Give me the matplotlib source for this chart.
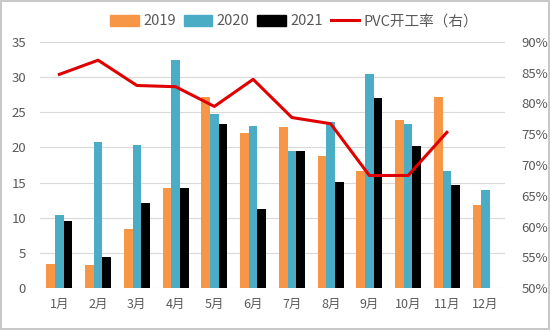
import matplotlib
matplotlib.use("Agg")
import matplotlib.pyplot as plt
import numpy as np
from matplotlib.patches import Patch
from matplotlib.lines import Line2D
from matplotlib.ticker import FuncFormatter

plt.rcParams['font.family'] = ['Noto Sans CJK SC', 'DejaVu Sans']

months = ["1月", "2月", "3月", "4月", "5月", "6月", "7月", "8月", "9月", "10月", "11月", "12月"]
v2019 = [3.5, 3.3, 8.4, 14.2, 27.2, 22.0, 22.9, 18.8, 16.7, 23.9, 27.2, 11.8]
v2020 = [10.4, 20.8, 20.3, 32.4, 24.7, 23.1, 19.5, 23.6, 30.4, 23.3, 16.7, 13.9]
v2021 = [9.6, 4.4, 12.1, 14.3, 23.3, 11.2, 19.5, 15.1, 27.0, 20.2, 14.6, np.nan]
pvc_rate = [84.7, 87.0, 82.9, 82.7, 79.5, 83.9, 77.7, 76.7, 68.3, 68.3, 75.3, np.nan]

c2019 = "#F79646"
c2020 = "#4BACC6"
c2021 = "#000000"
cline = "#E00000"
txt = "#595959"
grid = "#D9D9D9"

fig = plt.figure(figsize=(5.5, 3.3), dpi=100)
fig.patch.set_facecolor("white")
fig.patch.set_edgecolor("#C8C8C8")
fig.patch.set_linewidth(1.5)

ax = fig.add_axes([0.0727, 0.1264, 0.8455, 0.7472])
x = np.arange(len(months))
w = 0.225
ax.bar(x - w, v2019, w, color=c2019, zorder=2)
ax.bar(x, v2020, w, color=c2020, zorder=2)
ax.bar(x + w, v2021, w, color=c2021, zorder=2)

ax.set_xlim(-0.5, len(months) - 0.5)
ax.set_ylim(0, 35)
ax.set_yticks(np.arange(0, 36, 5))
ax.yaxis.grid(True, color=grid, linewidth=0.8, zorder=0)
ax.set_axisbelow(True)
for s in ax.spines.values():
    s.set_visible(False)
ax.tick_params(axis="both", length=0, colors=txt, labelsize=9.5)
ax.tick_params(axis="y", pad=10)
ax.tick_params(axis="x", pad=7)
ax.set_xticks(x)
ax.set_xticklabels(months, fontsize=9)

ax2 = ax.twinx()
ax2.plot(x, pvc_rate, color=cline, linewidth=2.2, zorder=3)
ax2.set_ylim(50, 90)
ax2.set_yticks(np.arange(50, 91, 5))
ax2.yaxis.set_major_formatter(FuncFormatter(lambda v, p: f"{v:.0f}%"))
for s in ax2.spines.values():
    s.set_visible(False)
ax2.tick_params(axis="y", length=0, colors=txt, labelsize=9.5, pad=12)

handles = [Patch(color=c2019), Patch(color=c2020), Patch(color=c2021),
           Line2D([0], [0], color=cline, linewidth=2.2)]
labels = ["2019", "2020", "2021", "PVC开工率（右）"]
fig.legend(handles, labels, loc="center", bbox_to_anchor=(0.535, 0.935), ncol=4,
           frameon=False, fontsize=10.5, handlelength=1.95, handleheight=0.8,
           handletextpad=0.3, columnspacing=0.55, labelcolor=txt)

fig.savefig("out.png", dpi=100)
